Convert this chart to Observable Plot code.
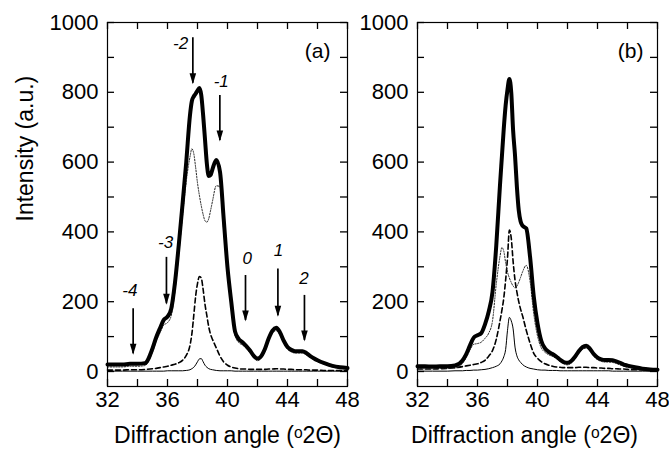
<!DOCTYPE html>
<html><head><meta charset="utf-8">
<script src="https://cdn.jsdelivr.net/npm/d3@7"></script>
<script src="https://cdn.jsdelivr.net/npm/@observablehq/plot@0.6"></script>
<style>
body{margin:0;background:#fff;}
#wrap{position:relative;width:669px;height:449px;font-family:"Liberation Sans",Arial,sans-serif;}
#wrap svg{position:absolute;top:0;overflow:visible;}
</style></head><body><div id="wrap"></div>
<script>
// shared x positions (degrees 2-theta)
const angle = [32,32.5,33,33.5,34,34.5, 35,35.25,35.5,35.75,36,36.25,36.5,36.75,37,37.25,
  37.5,37.625,37.75,37.875,38,38.125,38.25,38.375,38.5,38.625,38.75,38.875,
  39,39.25,39.5,39.75,40,40.25,40.5,40.75,41,41.25,41.5,41.75,42,42.25,42.5,42.75,43,43.25,43.5,43.75,44,44.25,44.5,44.75,45,45.25,45.5,45.75,
  46,46.5,47,47.5,48];

// panel (a)
const aTotal = [20,20,20,22,22,24, 66,98,124,148,157,180,255,362,478,600,
  735,775,788,796,805,812,792,735,665,595,560,563,
  580,606,572,435,298,200,115,93,84,73,60,45,37,44,65,95,117,125,112,88,70,62,58,58,58,53,45,38,
  32,23,16,12,10];
const aDotted = [13,13,13,15,15,17, 56,87,111,133,140,160,232,335,445,545,
  615,638,625,585,540,505,475,450,432,428,438,462,
  488,532,530,400,282,185,104,83,76,66,54,39,31,38,59,89,110,117,105,82,64,56,53,53,53,48,41,34,
  28,20,13,9,7];
const aDashed = [4,4,4,5,5,6, 8,9,11,13,15,18,21,25,32,46,
  75,108,160,215,252,272,268,235,192,160,128,106,
  92,68,44,27,18,13,10,8,7,7,6,6,6,6,6,7,7,8,7,7,6,6,5,5,5,5,4,4,
  4,3,3,3,3];
const aThin = [1,1,1,1,1,1, 1,1,1,1,2,2,2,2,2,3,
  5,8,12,19,28,36,37,28,18,12,8,6,
  5,3,2,2,2,2,1,1,1,1,1,1,1,1,1,1,1,1,1,1,1,1,1,1,1,1,1,1,
  1,1,1,1,1];

// panel (b)
const bTotal = [15,15,14,15,15,17, 32,50,75,97,104,110,135,172,228,360,
  535,615,695,762,808,838,800,690,620,530,462,430,
  418,410,330,215,138,88,66,56,50,43,34,27,25,30,42,58,70,74,65,50,40,35,33,33,32,29,25,20,
  17,12,8,6,5];
const bDotted = [8,8,8,9,9,10, 23,40,62,78,80,84,95,110,145,250,
  330,355,345,312,285,268,255,245,240,244,256,270,
  285,304,260,165,102,68,55,48,43,37,29,22,19,24,36,52,63,67,59,44,34,29,27,27,26,23,19,15,
  12,8,5,3,2];
const bDashed = [7,7,7,8,9,11, 14,16,18,20,22,26,32,44,60,92,
  145,175,210,262,325,405,382,315,262,228,200,178,
  160,118,82,52,38,28,22,18,15,13,12,11,11,11,11,12,12,12,11,11,10,10,9,9,8,8,7,7,
  6,5,5,4,4];
const bThin = [1,1,1,1,1,2, 2,3,3,4,4,5,6,8,11,15,
  22,30,42,63,118,155,145,122,70,45,33,26,
  20,13,9,7,5,4,4,3,3,3,2,2,2,2,2,2,2,2,2,2,2,2,2,2,1,1,1,1,
  1,1,1,1,1];

// arrows in panel (a)
const arrowLabels = ["-4","-3","-2","-1","0","1","2"];
const arrowX      = [33.71, 35.93, 37.69, 39.49, 41.2, 43.36, 45.13];
const arrowTop    = [180, 327, 956, 791, 275, 294, 218];
const arrowTip    = [51, 194, 826, 662, 146, 160, 89];
const labelX      = [33.49, 35.87, 36.87, 39.58, 41.31, 43.4, 45.1];
const labelY      = [232, 370, 941, 832, 323, 347, 266];

// axis ticks
const xMinor = [32,34,36,38,40,42,44,46,48];
const xMajor = [32,36,40,44,48];
const yMinor = [0,100,200,300,400,500,600,700,800,900,1000];
const yMajor = [0,200,400,600,800,1000];

const headSymbol = {draw(c){ c.moveTo(0, 1); c.lineTo(-3.3, -10); c.lineTo(3.3, -10); c.closePath(); }};
const rows = vals => angle.map((x, i) => ({x, y: vals[i]}));

const plotH = 449 - 22 - 63;   // frame height in px
const TL = 7;                  // tick length in px

function panel({width, ml, mr, total, dotted, dashed, thin, tag, tagDx, titleDx, yTitle, arrows}) {
  const plotW = width - ml - mr;
  const lineOpts = {x: "x", y: "y", curve: "monotone-x"};
  const tickOpts = {stroke: "black", strokeWidth: 1.3};
  const marks = [
    Plot.line(rows(thin), {...lineOpts, stroke: "black", strokeWidth: 1}),
    Plot.line(rows(dashed), {...lineOpts, stroke: "black", strokeWidth: 1.6, strokeDasharray: "5,3"}),
    Plot.line(rows(dotted), {...lineOpts, stroke: "#222", strokeWidth: 1, strokeDasharray: "1.3,1.5"}),
    Plot.line(rows(total), {...lineOpts, stroke: "black", strokeWidth: 4, strokeLinejoin: "round"}),
    Plot.frame({stroke: "black", strokeWidth: 1.2}),
    Plot.tickX(xMinor, {x: d => d, insetTop: plotH - TL, ...tickOpts}),
    Plot.tickX(xMinor, {x: d => d, insetBottom: plotH - TL, ...tickOpts}),
    Plot.tickY(yMinor, {y: d => d, insetRight: plotW - TL, ...tickOpts}),
    Plot.tickY(yMinor, {y: d => d, insetLeft: plotW - TL, ...tickOpts}),
    Plot.axisX({anchor: "bottom", ticks: xMajor, tickSize: 0, tickPadding: 5, fontSize: 22, label: null, tickFormat: d => String(d)}),
    Plot.axisY({anchor: "left", ticks: yMajor, tickSize: 0, tickPadding: 9, fontSize: 22, label: null, tickFormat: d => String(d)}),
    Plot.text([tag], {frameAnchor: "top-right", dx: tagDx, dy: 29, fontSize: 21, textAnchor: "end", lineAnchor: "middle"}),
    Plot.text(["Diffraction angle (\u1D522\u0398)"], {frameAnchor: "bottom", dx: titleDx, dy: 49, fontSize: 23, lineAnchor: "middle"})
  ];
  if (yTitle) marks.push(Plot.text([yTitle], {frameAnchor: "left", rotate: -90, dx: -82, dy: 17, fontSize: 23, lineAnchor: "middle"}));
  if (arrows) {
    const ad = arrowLabels.map((label, i) => ({label, x: arrowX[i], top: arrowTop[i], tip: arrowTip[i], lx: labelX[i], ly: labelY[i]}));
    marks.push(
      Plot.ruleX(ad, {x: "x", y1: "top", y2: "tip", stroke: "black", strokeWidth: 1.7}),
      Plot.dot(ad, {x: "x", y: "tip", symbol: headSymbol, fill: "black", stroke: "none"}),
      Plot.text(ad, {x: "lx", y: "ly", text: "label", fontStyle: "italic", fontSize: 17})
    );
  }
  return Plot.plot({
    width, height: 449,
    marginLeft: ml, marginRight: mr, marginTop: 22, marginBottom: 63,
    x: {domain: [32, 48]},
    y: {domain: [-43, 1000]},
    style: {fontFamily: "'Liberation Sans', Arial, sans-serif", background: "transparent", overflow: "visible", color: "black"},
    marks
  });
}

const wrap = document.getElementById("wrap");
const svgA = panel({width: 352, ml: 107, mr: 5, total: aTotal, dotted: aDotted, dashed: aDashed, thin: aThin,
  tag: "(a)", tagDx: -17, titleDx: 0, yTitle: "Intensity (a.u.)", arrows: true});
svgA.style.left = "0px";
wrap.appendChild(svgA);
const svgB = panel({width: 317, ml: 65, mr: 12, total: bTotal, dotted: bDotted, dashed: bDashed, thin: bThin,
  tag: "(b)", tagDx: -14, titleDx: -13, yTitle: null, arrows: false});
svgB.style.left = "352px";
wrap.appendChild(svgB);
</script>
</body></html>
